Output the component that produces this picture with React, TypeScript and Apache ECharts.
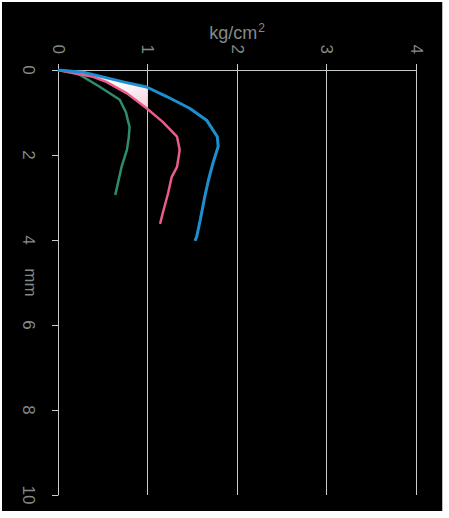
import React, { useEffect, useRef } from "react";
import * as echarts from "echarts";

// Depth (mm) and pressure (kg/cm²) readings for the three profiles
const greenDepth = [0, 0.07, 0.12, 0.4, 0.7, 1.0, 1.18, 1.34, 1.6, 1.88, 2.28, 2.66, 2.94];
const greenPressure = [0, 0.17, 0.25, 0.47, 0.69, 0.76, 0.78, 0.8, 0.79, 0.77, 0.71, 0.67, 0.64];

const pinkDepth = [0, 0.08, 0.16, 0.28, 0.55, 0.9, 1.22, 1.57, 1.88, 2.28, 2.52, 2.9, 3.37, 3.62];
const pinkPressure = [0, 0.2, 0.39, 0.54, 0.77, 0.99, 1.17, 1.33, 1.36, 1.33, 1.27, 1.23, 1.17, 1.14];

const blueDepth = [0, 0.05, 0.28, 0.4, 0.63, 0.9, 1.18, 1.57, 1.8, 2.2, 2.6, 2.98, 3.52, 3.92, 4.02];
const bluePressure = [0, 0.28, 0.73, 0.99, 1.22, 1.47, 1.66, 1.78, 1.79, 1.73, 1.68, 1.64, 1.59, 1.55, 1.53];

const pressureTicks = [0, 1, 2, 3, 4];
const depthTicks = [0, 2, 4, 6, 8, 10];
const shadeLimit = 1; // band between pink and blue is shaded up to this pressure

const pairs = (p: number[], d: number[]) => p.map((v, i) => [v, d[i]]);

// points of a profile up to the limit, ending at the interpolated crossing
function clipTo(p: number[], d: number[], limit: number) {
  const out: number[][] = [];
  for (let i = 0; i < p.length; i++) {
    if (p[i] <= limit) {
      out.push([p[i], d[i]]);
    } else {
      const t = (limit - p[i - 1]) / (p[i] - p[i - 1]);
      out.push([limit, d[i - 1] + t * (d[i] - d[i - 1])]);
      break;
    }
  }
  return out;
}

const labelColor = "#838b89";
const lineColor = "#c5cccb";
const font = "'Liberation Sans', Arial, sans-serif";

export default function App() {
  const ref = useRef<HTMLDivElement>(null);

  useEffect(() => {
    if (!ref.current) return;
    const chart = echarts.init(ref.current, null, { renderer: "svg" });
    const upper = clipTo(bluePressure, blueDepth, shadeLimit);
    const lower = clipTo(pinkPressure, pinkDepth, shadeLimit);
    const band = upper.concat(lower.slice().reverse());

    chart.setOption({
      animation: false,
      backgroundColor: "#000",
      grid: { left: 56, top: 68, width: 358, height: 425, outerBoundsMode: "none", containLabel: false },
      xAxis: {
        type: "value",
        position: "top",
        min: 0,
        max: 4,
        interval: 1,
        name: "{a|kg/cm}{b|2}",
        nameLocation: "middle",
        nameGap: 26,
        nameMoveOverlap: false,
        nameTextStyle: {
          rich: {
            a: { color: labelColor, fontSize: 18, fontFamily: font },
            b: { color: labelColor, fontSize: 12, fontFamily: font, verticalAlign: "top", padding: [0, 0, 10, 1] },
          },
        },
        axisLine: { show: true, lineStyle: { color: lineColor, width: 1 } },
        axisTick: { show: true, length: 6, lineStyle: { color: lineColor } },
        axisLabel: {
          rotate: -90,
          color: labelColor,
          fontSize: 17,
          fontFamily: font,
          margin: 16,
          formatter: (v: number) => (pressureTicks.includes(v) ? String(v) : ""),
        },
        splitLine: { show: true, lineStyle: { color: lineColor, width: 1 } },
      },
      yAxis: {
        type: "value",
        inverse: true,
        min: 0,
        max: 10,
        interval: 2,
        name: "mm",
        nameLocation: "middle",
        nameRotate: -90,
        nameGap: 19,
        nameMoveOverlap: false,
        nameTextStyle: { color: labelColor, fontSize: 17, fontFamily: font },
        axisLine: { show: true, lineStyle: { color: lineColor, width: 1 } },
        axisTick: { show: true, length: 6, lineStyle: { color: lineColor } },
        axisLabel: {
          rotate: -90,
          color: labelColor,
          fontSize: 17,
          fontFamily: font,
          margin: 21,
          formatter: (v: number) => (depthTicks.includes(v) ? String(v) : ""),
        },
        splitLine: { show: false },
      },
      series: [
        {
          type: "custom",
          z: 1,
          data: [[0, 0]],
          renderItem: (_params: any, api: any) => ({
            type: "polygon",
            shape: { points: band.map((pt) => api.coord(pt)) },
            style: {
              fill: new echarts.graphic.LinearGradient(0, 0, 1, 1, [
                { offset: 0, color: "#b8a4dc" },
                { offset: 0.45, color: "#ffffff" },
                { offset: 1, color: "#f6cfe0" },
              ]),
            },
          }),
        },
        {
          type: "line",
          data: pairs(greenPressure, greenDepth),
          showSymbol: false,
          z: 3,
          lineStyle: { color: "#2e8c70", width: 2.5 },
        },
        {
          type: "line",
          data: pairs(pinkPressure, pinkDepth),
          showSymbol: false,
          z: 4,
          lineStyle: { color: "#e95c8c", width: 2.5 },
        },
        {
          type: "line",
          data: pairs(bluePressure, blueDepth),
          showSymbol: false,
          z: 5,
          lineStyle: { color: "#1b8fcf", width: 3 },
        },
      ],
    });
    return () => chart.dispose();
  }, []);

  return (
    <div style={{ position: "fixed", left: 0, top: 0, width: 449, height: 518, background: "#fff" }}>
      <div
        ref={ref}
        style={{ position: "absolute", left: 2, top: 2, width: 440, height: 509, borderRight: "1px solid #b8bcbc" }}
      />
    </div>
  );
}
